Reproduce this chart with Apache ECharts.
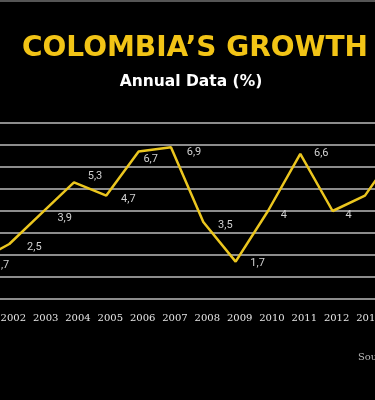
<!DOCTYPE html>
<html>
<head>
<meta charset="utf-8">
<script src="https://cdn.jsdelivr.net/npm/echarts@6/dist/echarts.min.js"></script>
<style>
  html, body { margin: 0; padding: 0; background: #000; overflow: hidden; width: 375px; height: 400px; }
  #chart { position: absolute; left: -43px; top: 0; width: 460px; height: 400px; }
</style>
</head>
<body>
<div id="chart"></div>
<script>
// annual growth, %
var years = ['2001', '2002', '2003', '2004', '2005', '2006', '2007', '2008', '2009', '2010', '2011', '2012', '2013', '2014'];
var growth = [1.7, 2.5, 3.9, 5.3, 4.7, 6.7, 6.9, 3.5, 1.7, 4.0, 6.6, 4.0, 4.7, 6.8];
var yTicks = [0, 1, 2, 3, 4, 5, 6, 7, 8];

// where each value label sits relative to its point
var labelOffsets = [[25, 4], [25, 3], [23, 5], [21, -6], [22, 4], [12, 8], [23, 5],
                    [22, 3], [22, 2], [16, 4], [21, -1], [16, 4], [22, 4], [22, 4]];

var chart = echarts.init(document.getElementById('chart'));

var option = {
    backgroundColor: '#000',
    animation: false,
    graphic: [
        { type: 'rect', shape: { x: 0, y: 0, width: 460, height: 2 }, style: { fill: '#555' } },
        {
            type: 'text',
            style: {
                text: 'COLOMBIA’S GROWTH', x: 65, y: 49,
                textVerticalAlign: 'middle',
                font: 'bold 28px "DejaVu Sans"', fill: '#F2C416'
            }
        },
        {
            type: 'text',
            style: {
                text: 'Annual Data (%)', x: 234, y: 82,
                textAlign: 'center', textVerticalAlign: 'middle',
                font: 'bold 15.5px "DejaVu Sans"', fill: '#fff'
            }
        },
        {
            type: 'text',
            style: {
                text: 'Source: DANE', x: 401, y: 357,
                textVerticalAlign: 'middle',
                font: '10px "DejaVu Serif"', fill: '#bbb'
            }
        }
    ],
    grid: { left: 20, right: 15, top: 123, bottom: 101 },
    xAxis: {
        type: 'category',
        data: years,
        boundaryGap: false,
        axisLine: { show: false },
        axisTick: { show: false },
        axisLabel: {
            interval: 0,
            margin: 14,
            padding: [0, 0, 0, 8],
            color: '#e6e6e6',
            fontFamily: 'DejaVu Serif',
            fontSize: 10
        }
    },
    yAxis: {
        type: 'value',
        min: yTicks[0],
        max: yTicks[yTicks.length - 1],
        interval: 1,
        axisLine: { show: false },
        axisTick: { show: false },
        axisLabel: { show: false },
        splitLine: { lineStyle: { color: '#8c8c8c', width: 2 } }
    },
    series: [{
        type: 'line',
        symbol: 'circle',
        symbolSize: 0,
        data: growth.map(function (v, i) {
            return { value: v, label: { offset: labelOffsets[i] } };
        }),
        lineStyle: { color: '#EBC61F', width: 2.5 },
        itemStyle: { color: '#EBC61F' },
        label: {
            show: true,
            position: 'inside',
            color: '#d0d0d0',
            fontFamily: 'Roboto',
            fontSize: 11,
            formatter: function (p) { return String(p.value).replace('.', ','); }
        }
    }]
};
chart.setOption(option);
</script>
</body>
</html>
